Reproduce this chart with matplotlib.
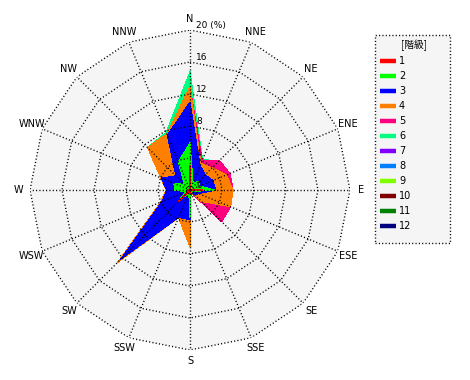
import numpy as np
import matplotlib
matplotlib.use("Agg")
import matplotlib.pyplot as plt
from matplotlib.patches import Rectangle
from matplotlib.lines import Line2D

plt.rcParams['font.family'] = ['DejaVu Sans', 'Noto Sans CJK JP']

directions = ["N", "NNE", "NE", "ENE", "E", "ESE", "SE", "SSE",
              "S", "SSW", "SW", "WSW", "W", "WNW", "NW", "NNW"]
classes = ["1", "2", "3", "4", "5", "6", "7", "8", "9", "10", "11", "12"]
colors = ["#ff0000", "#00ff00", "#0000ff", "#ff8000", "#ff0080", "#00ff80",
          "#8000ff", "#0080ff", "#80ff00", "#800000", "#008000", "#000080"]

# frequency (%) per wind speed class, 16 directions starting at N, clockwise
class1 = [3.1, 0.1, 0.1, 0.1, 1.6, 0.1, 0.1, 0.1, 0.4, 0.1, 2.1, 0.1, 0.3, 0.1, 0.1, 0.1]
class2 = [2.8, 0.9, 1.4, 1.2, 1.5, 0.4, 0.3, 0.1, 3.0, 0.3, 0.0, 0.5, 1.6, 2.1, 0.9, 3.7]
class3 = [5.1, 2.3, 1.2, 1.8, 0.1, 0.7, 0.4, 0.1, 0.3, 3.3, 10.1, 3.2, 1.0, 1.7, 1.5, 3.6]
class4 = [1.9, 0.3, 1.2, 1.8, 2.2, 4.3, 1.2, 0.0, 3.4, 0.05, 0.6, 0.2, 0.1, 0.05, 5.0, 0.2]
class5 = [0.0, 0.4, 1.3, 0.5, 0.0, 0.0, 3.6, 0.05, 0.0, 0.0, 0.0, 0.0, 0.0, 0.0, 0.0, 0.0]
class6 = [1.9, 0.1, 0.0, 0.0, 0.0, 0.0, 0.0, 0.0, 0.0, 0.0, 0.0, 0.0, 0.0, 0.0, 0.0, 0.2]
class7 = [0.0] * 16
class8 = [0.0] * 16
class9 = [0.0] * 16
class10 = [0.0] * 16
class11 = [0.0] * 16
class12 = [0.0] * 16

rings = [4, 8, 12, 16, 20]

W, H = 470, 380
fig = plt.figure(figsize=(W / 100, H / 100), dpi=100)
fig.patch.set_facecolor("white")

ax = fig.add_axes([30 / W, (H - 350) / H, 320 / W, 320 / H], projection="polar")
ax.set_theta_zero_location("N")
ax.set_theta_direction(-1)
ax.set_ylim(0, 20)
ax.set_axis_off()

theta = np.deg2rad(np.arange(16) * 22.5)
tc = np.append(theta, theta[0])

ax.fill(theta, np.full(16, 20.0), color="#f5f5f5", lw=0, zorder=0)

series = np.array([class1, class2, class3, class4, class5, class6,
                   class7, class8, class9, class10, class11, class12])
cum = np.cumsum(series, axis=0)
for k in range(len(classes) - 1, -1, -1):
    if series[k].sum() == 0:
        continue
    ax.fill(theta, cum[k], color=colors[k], lw=0, antialiased=False, zorder=1)

dots = (0, (0.8, 1.6))
for v in rings:
    ax.plot(tc, np.full(17, v), color="black", lw=1, ls=dots, zorder=3)
for t in theta:
    ax.plot([t, t], [0, 20], color="black", lw=1, ls=dots, zorder=3)

for v in [0] + rings:
    lab = "20 (%)" if v == 20 else str(v)
    ax.annotate(lab, xy=(0, v), xytext=(4.3, 0.2), textcoords="offset points",
                ha="left", va="bottom", fontsize=6.5, zorder=4)

for t, d in zip(theta, directions):
    ax.text(t, 21.4, d, ha="center", va="center", fontsize=7)

# legend box
def fx(x):
    return x / W


def fy(y):
    return 1 - y / H


fig.add_artist(Rectangle((fx(375), fy(243)), 75 / W, 208 / H, transform=fig.transFigure,
                         facecolor="#f5f5f5", edgecolor="black", lw=1, ls=(0, (0.8, 1.6))))
fig.text(fx(414), fy(45), "[階級]", ha="center", va="center", fontsize=7,
         family=["Noto Sans CJK JP", "DejaVu Sans"])
for i, (name, c) in enumerate(zip(classes, colors)):
    y = fy(61 + 15 * i)
    fig.add_artist(Line2D([fx(380), fx(396)], [y, y], transform=fig.transFigure,
                          color=c, lw=3.2, solid_capstyle="butt"))
    fig.text(fx(399), y, name, ha="left", va="center", fontsize=7)

fig.savefig("out.png", dpi=100)
